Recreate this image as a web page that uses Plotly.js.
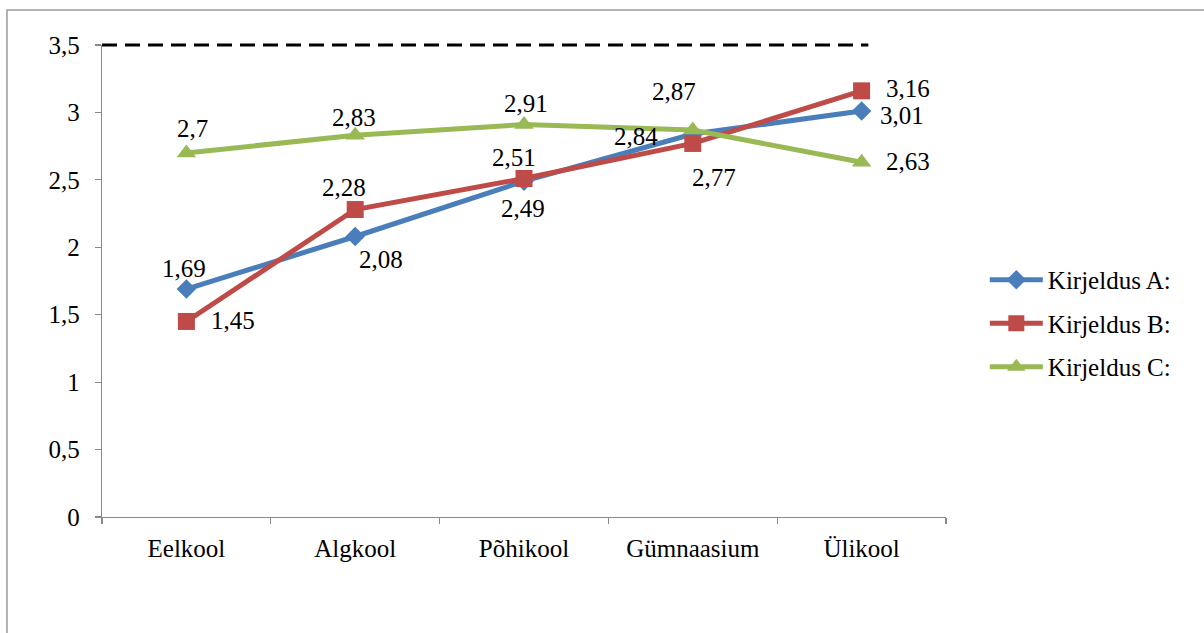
<!DOCTYPE html>
<html>
<head>
<meta charset="utf-8">
<script src="https://cdn.plot.ly/plotly-3.0.1.min.js"></script>
<style>
  html, body { margin: 0; padding: 0; background: #fff; }
  #chart { width: 1204px; height: 633px; }
</style>
</head>
<body>
<div id="chart"></div>
<pre id="out" style="position:absolute;left:1150px;top:600px;font-size:12px;font-family:'DejaVu Sans Mono';color:#fff;margin:0"></pre>
<script>
// ---- Data ----
var categories = ["Eelkool", "Algkool", "Põhikool", "Gümnaasium", "Ülikool"];
var seriesNames = ["Kirjeldus A:", "Kirjeldus B:", "Kirjeldus C:"];
var valuesA = [1.69, 2.08, 2.49, 2.84, 3.01];
var valuesB = [1.45, 2.28, 2.51, 2.77, 3.16];
var valuesC = [2.7, 2.83, 2.91, 2.87, 2.63];
var referenceLevel = 3.5;
var yTickValues = [0, 0.5, 1, 1.5, 2, 2.5, 3, 3.5];

// ---- Styling / label placement (pixel offsets, not data) ----
var colors = ["#4A7EBB", "#BE4B48", "#98B954"];
var symbols = ["diamond", "square", "triangle-up"];
var markerSizes = [15, 17, 17];
var labelOffsets = [
  [[-2, -21], [26, 23], [-1, 27], [-57, 2], [40, 4]],
  [[47, -1], [-11, -22], [-10, -21], [21, 34], [46, -2]],
  [[6, -24], [-1, -18], [2, -21], [-19, -38], [46, -1]]
];
var allValues = [valuesA, valuesB, valuesC];
var fontFamily = "Liberation Serif";
var fontSize = 25;

var traces = allValues.map(function (vals, i) {
  return { type: "scatter", mode: "lines+markers", name: seriesNames[i], x: categories, y: vals,
    line: { color: colors[i], width: 5 },
    marker: { symbol: symbols[i], size: markerSizes[i], color: colors[i] },
    legendgroup: "g" + i };
});

function fmt(v) { return String(v).replace(".", ","); }

var annotations = [];
allValues.forEach(function (vals, i) {
  vals.forEach(function (v, j) {
    annotations.push({ x: categories[j], y: v, xref: "x", yref: "y", text: fmt(v), showarrow: false,
      xshift: labelOffsets[i][j][0], yshift: -labelOffsets[i][j][1],
      font: { family: fontFamily, size: fontSize, color: "#000" } });
  });
});

var xRange = [-0.5, categories.length - 0.5];
var dashEndIndex = categories.length - 1 + 0.04;
var shapes = [
  // reference dashed line at the top of the value axis
  { type: "line", xref: "paper", yref: "paper", x0: 0, x1: (dashEndIndex - xRange[0]) / (xRange[1] - xRange[0]), y0: 1, y1: 1,
    line: { color: "#000", width: 3, dash: "15px,8px" }, layer: "above" },
  // chart frame
  { type: "rect", xref: "paper", yref: "paper", x0: -0.1126, x1: 1.32, y0: -0.3, y1: 1.0742,
    line: { color: "#9a9a9a", width: 1.5 }, fillcolor: "rgba(0,0,0,0)", layer: "below" }
];

var layout = {
  width: 1204, height: 633,
  margin: { l: 102, r: 258, t: 45, b: 116, pad: 0 },
  paper_bgcolor: "#fff", plot_bgcolor: "#fff", separators: ", ",
  font: { family: fontFamily, size: fontSize, color: "#000" },
  showlegend: true,
  legend: { x: 1.046, xanchor: "left", y: 0.41, yanchor: "middle",
    font: { family: fontFamily, size: fontSize, color: "#000" }, tracegroupgap: 8, bgcolor: "rgba(0,0,0,0)", itemwidth: 53 },
  xaxis: { type: "category", range: xRange, showline: true, linecolor: "#898989", linewidth: 1.2,
    ticks: "outside", tickson: "boundaries", ticklen: 6, tickcolor: "#898989", tickwidth: 1.2,
    ticklabelstandoff: 9,
    showgrid: false, zeroline: false, tickfont: { family: fontFamily, size: fontSize, color: "#000" } },
  yaxis: { range: [0, referenceLevel], tickvals: yTickValues, ticktext: yTickValues.map(fmt),
    showline: true, linecolor: "#898989", linewidth: 1.2, ticks: "outside", ticklen: 6, tickcolor: "#898989", tickwidth: 1.2,
    ticklabelstandoff: 10,
    showgrid: false, zeroline: false, tickfont: { family: fontFamily, size: fontSize, color: "#000" } },
  annotations: annotations, shapes: shapes
};

Plotly.newPlot("chart", traces, layout, { displayModeBar: false, staticPlot: true }).then(function () {
  document.getElementById("out").textContent = ".";
});
</script>
</body>
</html>
